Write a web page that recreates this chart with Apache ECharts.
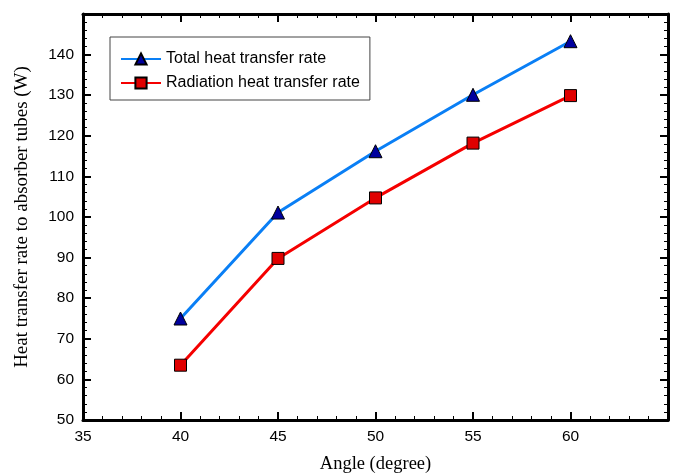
<!DOCTYPE html>
<html>
<head>
<meta charset="utf-8">
<script src="https://cdn.jsdelivr.net/npm/echarts@6/dist/echarts.min.js"></script>
<style>html,body{margin:0;padding:0;background:#fff;}#c{width:676px;height:474px;}</style>
</head>
<body>
<div id="c"></div>
<script>
const angles = [40, 45, 50, 55, 60];
const totalRate = [75, 101.1, 116.2, 130.1, 143.3];
const radiationRate = [63.5, 89.8, 104.7, 118.2, 129.9];
const seriesNames = ['Total heat transfer rate', 'Radiation heat transfer rate'];
const xTitle = 'Angle (degree)';
const yTitle = 'Heat transfer rate to absorber tubes (W)';

const chart = echarts.init(document.getElementById('c'), null, {renderer: 'canvas'});
const sans = 'Liberation Sans';
const serif = 'Liberation Serif';
const lineStyleAxis = {show: true, lineStyle: {color: '#000', width: 3}};
function xAx(pos, labels) {
  return {
    type: 'value', position: pos, min: 35, max: 65, interval: 5,
    axisLine: Object.assign({onZero: false}, lineStyleAxis),
    axisTick: {show: true, inside: true, length: 8, lineStyle: {color: '#000', width: 2}},
    minorTick: {show: true, splitNumber: 5, length: 4, lineStyle: {color: '#000', width: 1}},
    splitLine: {show: false},
    axisLabel: {show: labels, margin: 9, color: '#000', fontFamily: sans, fontSize: 15.5,
      formatter: v => (v >= 65 ? '' : String(v))},
    name: labels ? xTitle : '', nameLocation: 'middle', nameGap: 35,
    nameTextStyle: {fontFamily: serif, fontSize: 18.5, color: '#000'}
  };
}
function yAx(pos, labels) {
  return {
    type: 'value', position: pos, min: 50, max: 150, interval: 10,
    axisLine: Object.assign({onZero: false}, lineStyleAxis),
    axisTick: {show: true, inside: true, length: 8, lineStyle: {color: '#000', width: 2}},
    minorTick: {show: true, splitNumber: 5, length: 4, lineStyle: {color: '#000', width: 1}},
    splitLine: {show: false},
    axisLabel: {show: labels, margin: 9, color: '#000', fontFamily: sans, fontSize: 15.5,
      formatter: v => (v >= 150 ? '' : String(v))},
    name: labels ? yTitle : '', nameLocation: 'middle', nameGap: 51,
    nameTextStyle: {fontFamily: serif, fontSize: 19, color: '#000'}
  };
}
chart.setOption({
  animation: false,
  backgroundColor: '#fff',
  grid: {left: 83, right: 8, top: 14, bottom: 54, containLabel: false, outerBoundsMode: 'none'},
  legend: {
    left: 110, top: 37, orient: 'vertical',
    padding: [14, 10, 9, 10], itemGap: 8, itemWidth: 40, itemHeight: 14,
    borderColor: '#444', borderWidth: 1,
    textStyle: {fontFamily: sans, fontSize: 16, color: '#000'},
    data: seriesNames
  },
  xAxis: [xAx('bottom', true), xAx('top', false)],
  yAxis: [yAx('left', true), yAx('right', false)],
  series: [
    {
      name: seriesNames[0], type: 'line', xAxisIndex: 0, yAxisIndex: 0,
      data: angles.map((a, i) => [a, totalRate[i]]),
      lineStyle: {color: '#0a7ff5', width: 3},
      symbol: 'triangle', symbolSize: 13,
      itemStyle: {color: '#00009e', borderColor: '#000', borderWidth: 1}
    },
    {
      name: seriesNames[1], type: 'line', xAxisIndex: 0, yAxisIndex: 0,
      data: angles.map((a, i) => [a, radiationRate[i]]),
      lineStyle: {color: '#f50000', width: 3},
      symbol: 'rect', symbolSize: 12,
      itemStyle: {color: '#e00000', borderColor: '#000', borderWidth: 1}
    }
  ]
});
</script>
</body>
</html>
